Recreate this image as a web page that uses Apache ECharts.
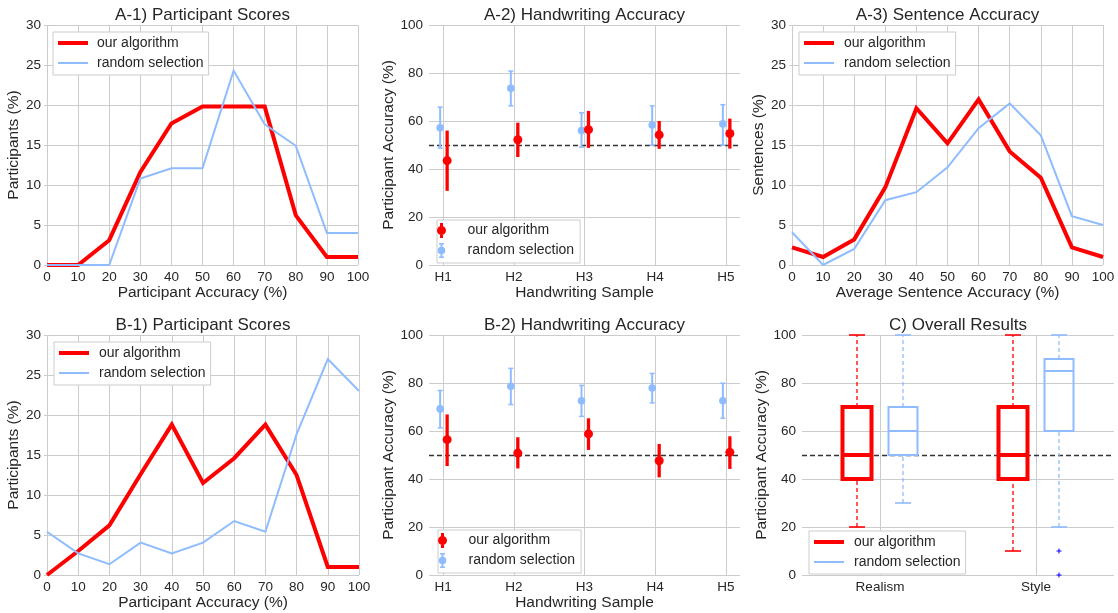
<!DOCTYPE html>
<html><head><meta charset="utf-8">
<script src="https://cdn.jsdelivr.net/npm/echarts@6/dist/echarts.min.js"></script>
<style>html,body{margin:0;padding:0;background:#fff}#c{width:1118px;height:613px}</style>
</head><body><div id="c"></div>
<script>
// ---------------- DATA ----------------
const accX = [0, 10, 20, 30, 40, 50, 60, 70, 80, 90, 100];
// A-1) Participant Scores
const a1Ours   = [0, 0, 3.1, 11.6, 17.7, 19.8, 19.8, 19.8, 6.2, 1.0, 1.0];
const a1Random = [0, 0, 0, 10.8, 12.1, 12.1, 24.3, 17.6, 14.9, 4.0, 4.0];
// A-3) Sentence Accuracy
const a3Ours   = [2.2, 1.0, 3.2, 9.7, 19.6, 15.2, 20.7, 14.2, 10.9, 2.2, 1.0];
const a3Random = [4.1, 0, 2.0, 8.1, 9.1, 12.2, 17.1, 20.2, 16.2, 6.1, 5.0];
// B-1) Participant Scores
const b1Ours   = [0, 3.0, 6.2, 12.6, 18.8, 11.5, 14.6, 18.8, 12.5, 1.0, 1.0];
const b1Random = [5.4, 2.7, 1.35, 4.05, 2.7, 4.05, 6.75, 5.4, 17.6, 27.0, 23.0];
// Handwriting samples
const samples = ['H1', 'H2', 'H3', 'H4', 'H5'];
// A-2) Handwriting Accuracy
const a2OursMean   = [43.5, 52.2, 56.4, 54.2, 54.8];
const a2OursLow    = [30.9, 45.0, 48.8, 48.4, 48.5];
const a2OursHigh   = [56.0, 59.3, 64.2, 60.0, 61.0];
const a2RandomMean = [57.2, 73.6, 56.0, 58.3, 58.8];
const a2RandomLow  = [48.7, 66.3, 49.1, 49.9, 49.9];
const a2RandomHigh = [65.8, 80.8, 63.4, 66.3, 66.8];
// B-2) Handwriting Accuracy
const b2OursMean   = [56.4, 50.8, 58.8, 47.6, 51.1];
const b2OursLow    = [45.4, 44.4, 52.1, 40.7, 44.2];
const b2OursHigh   = [66.9, 57.4, 65.3, 54.6, 57.8];
const b2RandomMean = [69.2, 78.6, 72.6, 77.9, 72.6];
const b2RandomLow  = [61.3, 71.0, 66.1, 71.7, 65.3];
const b2RandomHigh = [76.9, 86.1, 79.0, 84.0, 79.9];
// C) Overall Results (box plots)
const groups = ['Realism', 'Style'];
const oursMin = [20, 10], oursQ1 = [40, 40], oursMed = [50, 50], oursQ3 = [70, 70], oursMax = [100, 100];
const randMin = [30, 20], randQ1 = [50, 60], randMed = [60, 85], randQ3 = [70, 90], randMax = [100, 100];
const randOutlierGroup = [1, 1];
const randOutlierValue = [10, 0];
const chanceLevel = 50;

// ---------------- STYLE ----------------
const FONT = "'Liberation Sans', Arial, Helvetica, sans-serif";
const TXT = '#262626';
const GRIDC = '#cccccc';
const RED = '#ff0000';
const BLUE = '#8ebcff';
const DARKBLUE = '#0000ff';
const TICK_FS = 13.5, NAME_FS = 15.5, TITLE_FS = 17, LEG_FS = 14;

const grids = [
  { left: 47,  top: 25,  width: 311, height: 240 },
  { left: 429, top: 25,  width: 311, height: 240 },
  { left: 792, top: 25,  width: 311, height: 240 },
  { left: 47,  top: 335, width: 312, height: 240 },
  { left: 429, top: 335, width: 311, height: 240 },
  { left: 802, top: 335, width: 312, height: 240 }
];

function yAxis(gi, max, interval, name, gap) {
  return {
    gridIndex: gi, type: 'value', min: 0, max: max, interval: interval,
    name: name, nameLocation: 'middle', nameGap: gap,
    nameTextStyle: { fontSize: NAME_FS, color: TXT, fontFamily: FONT },
    axisLine: { show: false },
    axisTick: { show: true, length: 3, lineStyle: { color: GRIDC } },
    axisLabel: { fontSize: TICK_FS, color: TXT, margin: 6, fontFamily: FONT },
    splitLine: { show: true, lineStyle: { color: GRIDC, width: 1 } }
  };
}
function xAccAxis(gi, name) {
  return {
    gridIndex: gi, type: 'value', min: 0, max: 100, interval: 10,
    name: name, nameLocation: 'middle', nameGap: 20,
    nameTextStyle: { fontSize: NAME_FS, color: TXT, fontFamily: FONT },
    axisLine: { show: false }, axisTick: { show: false },
    axisLabel: { fontSize: TICK_FS, color: TXT, margin: 5, fontFamily: FONT },
    splitLine: { show: true, lineStyle: { color: GRIDC, width: 1 } }
  };
}
function xCatAxis(gi, name, cats, pad) {
  return {
    gridIndex: gi, type: 'value', min: -pad, max: cats.length - 1 + pad,
    name: name, nameLocation: 'middle', nameGap: 20,
    nameTextStyle: { fontSize: NAME_FS, color: TXT, fontFamily: FONT },
    axisLine: { show: false }, axisTick: { show: false },
    axisLabel: {
      fontSize: TICK_FS, color: TXT, margin: 5, fontFamily: FONT,
      customValues: cats.map((c, i) => i),
      formatter: v => cats[Math.round(v)]
    },
    splitLine: { show: false }
  };
}
function lineSeries(name, ys, gi, color, w) {
  return {
    type: 'line', name: name, xAxisIndex: gi, yAxisIndex: gi,
    data: accX.map((x, i) => [x, ys[i]]),
    symbol: 'none', showSymbol: false, color: color,
    itemStyle: { color: color }, lineStyle: { color: color, width: w, join: 'miter' },
    animation: false
  };
}
function guideSeries(gi, xs, withChance) {
  const d = xs.map(x => ({ xAxis: x, lineStyle: { color: GRIDC, width: 1, type: 'solid' } }));
  if (withChance) d.push({ yAxis: chanceLevel, lineStyle: { color: '#333333', width: 1.3, type: [5, 3] } });
  return {
    type: 'line', xAxisIndex: gi, yAxisIndex: gi, data: [], silent: true, z: 1,
    markLine: { silent: true, symbol: ['none', 'none'], label: { show: false }, animation: false, z: 1, data: d }
  };
}
function errSeries(name, means, lows, highs, gi, color, dx, barW, capW, r) {
  return {
    type: 'custom', name: name, xAxisIndex: gi, yAxisIndex: gi,
    data: means.map((m, i) => [i, m, lows[i], highs[i]]),
    encode: { x: 0, y: [1, 2, 3] },
    itemStyle: { color: color }, animation: false, z: 2,
    renderItem: function (params, api) {
      const x = api.value(0);
      const c = api.coord([x, api.value(1)]);
      const lo = api.coord([x, api.value(2)]);
      const hi = api.coord([x, api.value(3)]);
      const px = c[0] + dx;
      const ch = [{ type: 'line', shape: { x1: px, y1: lo[1], x2: px, y2: hi[1] }, style: { stroke: color, lineWidth: barW } }];
      if (capW) {
        ch.push({ type: 'line', shape: { x1: px - capW / 2, y1: lo[1], x2: px + capW / 2, y2: lo[1] }, style: { stroke: color, lineWidth: 1.5 } });
        ch.push({ type: 'line', shape: { x1: px - capW / 2, y1: hi[1], x2: px + capW / 2, y2: hi[1] }, style: { stroke: color, lineWidth: 1.5 } });
      }
      ch.push({ type: 'circle', shape: { cx: px, cy: c[1], r: r }, style: { fill: color } });
      return { type: 'group', children: ch };
    }
  };
}
function boxSeries(name, mins, q1s, meds, q3s, maxs, gi, color, dx, lw) {
  const half = 14.5, capHalf = 8;
  return {
    type: 'custom', name: name, xAxisIndex: gi, yAxisIndex: gi,
    data: mins.map((m, i) => [i, m, q1s[i], meds[i], q3s[i], maxs[i]]),
    encode: { x: 0, y: [1, 2, 3, 4, 5] },
    itemStyle: { color: color }, animation: false, z: 2,
    renderItem: function (params, api) {
      const x = api.value(0);
      const p = [1, 2, 3, 4, 5].map(k => api.coord([x, api.value(k)]));
      const cx = p[0][0] + dx;
      const yMin = p[0][1], yQ1 = p[1][1], yMed = p[2][1], yQ3 = p[3][1], yMax = p[4][1];
      const dash = { stroke: color, lineWidth: 1.3, lineDash: [4, 3] };
      const cap = { stroke: color, lineWidth: 1.6 };
      return {
        type: 'group', children: [
          { type: 'line', shape: { x1: cx, y1: yMin, x2: cx, y2: yQ1 }, style: dash },
          { type: 'line', shape: { x1: cx, y1: yQ3, x2: cx, y2: yMax }, style: dash },
          { type: 'line', shape: { x1: cx - capHalf, y1: yMin, x2: cx + capHalf, y2: yMin }, style: cap },
          { type: 'line', shape: { x1: cx - capHalf, y1: yMax, x2: cx + capHalf, y2: yMax }, style: cap },
          { type: 'rect', shape: { x: cx - half, y: yQ3, width: 2 * half, height: yQ1 - yQ3 }, style: { fill: 'none', stroke: color, lineWidth: lw } },
          { type: 'line', shape: { x1: cx - half, y1: yMed, x2: cx + half, y2: yMed }, style: { stroke: color, lineWidth: lw } }
        ]
      };
    }
  };
}
function outlierSeries(gi, gIdx, vals, color, dx) {
  return {
    type: 'custom', xAxisIndex: gi, yAxisIndex: gi,
    data: gIdx.map((g, i) => [g, vals[i]]),
    encode: { x: 0, y: 1 }, animation: false, z: 3, silent: true,
    renderItem: function (params, api) {
      const c = api.coord([api.value(0), api.value(1)]);
      const px = c[0] + dx, s = 2.5;
      return {
        type: 'group', children: [
          { type: 'line', shape: { x1: px - s, y1: c[1], x2: px + s, y2: c[1] }, style: { stroke: color, lineWidth: 1 } },
          { type: 'line', shape: { x1: px, y1: c[1] - s, x2: px, y2: c[1] + s }, style: { stroke: color, lineWidth: 1 } }
        ]
      };
    }
  };
}

const lineIconRed = 'path://M0,0 h30 v4 h-30 z';
const lineIconBlue = 'path://M0,0 h30 v2 h-30 z';
const errIconRed = 'path://M3.5,0 h3 v15 h-3 z M5,3 A4.5,4.5 0 1 1 5,12 A4.5,4.5 0 1 1 5,3 z';
const errIconBlue = 'path://M2.5,0 h5 v1.5 h-1.5 v12 h1.5 v1.5 h-5 v-1.5 h1.5 v-12 h-1.5 z M5,3.7 A3.8,3.8 0 1 1 5,11.3 A3.8,3.8 0 1 1 5,3.7 z';

function lineLegend(left, top, textPad) {
  return {
    left: left, top: top, orient: 'vertical', selectedMode: false,
    padding: [4, 5, 5, 5], itemWidth: 30, itemHeight: 14, itemGap: 6,
    borderColor: GRIDC, borderWidth: 1, borderRadius: 0, backgroundColor: '#ffffff',
    itemStyle: { borderWidth: 0 },
    textStyle: { fontSize: LEG_FS, color: TXT, fontFamily: FONT, padding: [0, 0, 0, textPad] },
    data: [{ name: 'our algorithm', icon: lineIconRed }, { name: 'random selection', icon: lineIconBlue }]
  };
}
function errLegend(left, top) {
  return {
    left: left, top: top, orient: 'vertical', selectedMode: false,
    padding: [3, 6, 5, 0], itemWidth: 38, itemHeight: 15, itemGap: 5,
    borderColor: GRIDC, borderWidth: 1, borderRadius: 0, backgroundColor: '#ffffff',
    itemStyle: { borderWidth: 0 },
    textStyle: { fontSize: LEG_FS, color: TXT, fontFamily: FONT, padding: [0, 0, 0, 2] },
    data: [{ name: 'our algorithm', icon: errIconRed }, { name: 'random selection', icon: errIconBlue }]
  };
}
function title(text, gi, top) {
  const g = grids[gi];
  return { text: text, left: g.left + g.width / 2, top: top, textAlign: 'center', padding: 0,
    textStyle: { fontSize: TITLE_FS, fontWeight: 'normal', color: TXT, fontFamily: FONT } };
}

const option = {
  backgroundColor: '#ffffff',
  animation: false,
  textStyle: { fontFamily: FONT },
  title: [
    title('A-1) Participant Scores', 0, 7),
    title('A-2) Handwriting Accuracy', 1, 7),
    title('A-3) Sentence Accuracy', 2, 7),
    title('B-1) Participant Scores', 3, 317),
    title('B-2) Handwriting Accuracy', 4, 317),
    title('C) Overall Results', 5, 317)
  ],
  grid: grids,
  legend: [
    lineLegend(53, 32, 4),
    errLegend(437, 220),
    lineLegend(799, 32, 5),
    lineLegend(54, 342, 5),
    errLegend(438, 530),
    lineLegend(809, 531, 5)
  ],
  xAxis: [
    xAccAxis(0, 'Participant Accuracy (%)'),
    xCatAxis(1, 'Handwriting Sample', samples, 0.2),
    xAccAxis(2, 'Average Sentence Accuracy (%)'),
    xAccAxis(3, 'Participant Accuracy (%)'),
    xCatAxis(4, 'Handwriting Sample', samples, 0.2),
    xCatAxis(5, '', groups, 0.5)
  ],
  yAxis: [
    yAxis(0, 30, 5, 'Participants (%)', 22.5),
    yAxis(1, 100, 20, 'Participant Accuracy (%)', 28),
    yAxis(2, 30, 5, 'Sentences (%)', 22),
    yAxis(3, 30, 5, 'Participants (%)', 22.5),
    yAxis(4, 100, 20, 'Participant Accuracy (%)', 29),
    yAxis(5, 100, 20, 'Participant Accuracy (%)', 28)
  ],
  series: [
    lineSeries('our algorithm', a1Ours, 0, RED, 4),
    lineSeries('random selection', a1Random, 0, BLUE, 2),
    lineSeries('our algorithm', a3Ours, 2, RED, 4),
    lineSeries('random selection', a3Random, 2, BLUE, 2),
    lineSeries('our algorithm', b1Ours, 3, RED, 4),
    lineSeries('random selection', b1Random, 3, BLUE, 2),
    guideSeries(1, samples.map((s, i) => i), true),
    guideSeries(4, samples.map((s, i) => i), true),
    guideSeries(5, groups.map((s, i) => i), true),
    errSeries('random selection', a2RandomMean, a2RandomLow, a2RandomHigh, 1, BLUE, -3, 2, 5, 3.8),
    errSeries('our algorithm', a2OursMean, a2OursLow, a2OursHigh, 1, RED, 4, 3.3, 0, 4.5),
    errSeries('random selection', b2RandomMean, b2RandomLow, b2RandomHigh, 4, BLUE, -3, 2, 5, 3.8),
    errSeries('our algorithm', b2OursMean, b2OursLow, b2OursHigh, 4, RED, 4, 3.3, 0, 4.5),
    boxSeries('our algorithm', oursMin, oursQ1, oursMed, oursQ3, oursMax, 5, RED, -23, 4),
    boxSeries('random selection', randMin, randQ1, randMed, randQ3, randMax, 5, BLUE, 23, 2),
    outlierSeries(5, randOutlierGroup, randOutlierValue, DARKBLUE, 23)
  ]
};
const chart = echarts.init(document.getElementById('c'), null, { renderer: 'canvas' });
chart.setOption(option);
</script>
</body></html>
